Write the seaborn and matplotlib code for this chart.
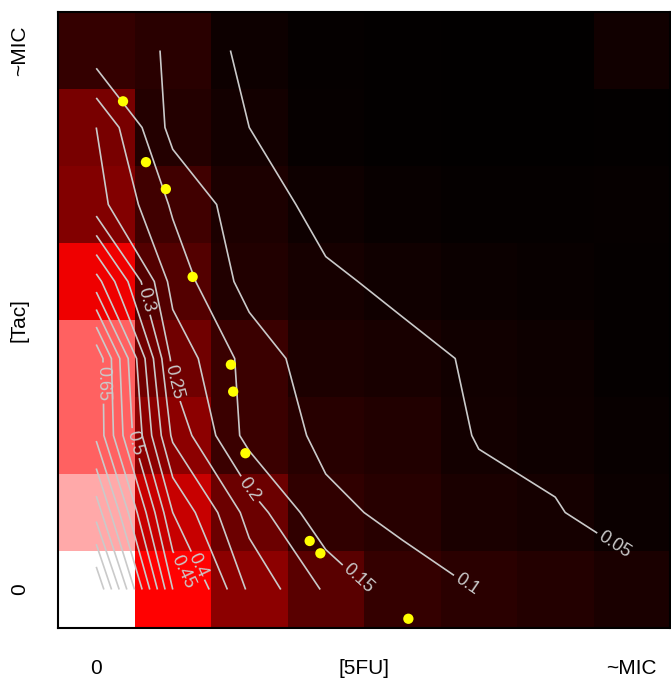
import numpy as np
import pandas as pd
import matplotlib
matplotlib.use("Agg")
from matplotlib import pyplot as plt
from matplotlib.colors import LinearSegmentedColormap
import seaborn as sns

sns.set_style("white")
plt.rcParams['font.family'] = ['Liberation Sans', 'DejaVu Sans']
plt.rcParams['text.color'] = 'black'
plt.rcParams['axes.labelcolor'] = 'black'
plt.rcParams['xtick.color'] = 'black'
plt.rcParams['ytick.color'] = 'black'

# growth (fraction of no-drug control), rows from highest [Tac] (top) to 0 (bottom)
tac_row7 = [0.12, 0.096, 0.035, 0.012, 0.008, 0.006, 0.006, 0.045]
tac_row6 = [0.25, 0.083, 0.05, 0.018, 0.010, 0.006, 0.006, 0.008]
tac_row5 = [0.27, 0.143, 0.068, 0.0385, 0.022, 0.015, 0.015, 0.018]
tac_row4 = [0.47, 0.18, 0.08, 0.0555, 0.0424, 0.028, 0.022, 0.014]
tac_row3 = [0.69, 0.235, 0.13, 0.0675, 0.059, 0.046, 0.032, 0.014]
tac_row2 = [0.69, 0.29, 0.13, 0.09, 0.08, 0.047, 0.038, 0.02]
tac_row1 = [0.83, 0.40, 0.23, 0.11, 0.09, 0.064, 0.053, 0.03]
tac_row0 = [1.0, 0.5, 0.29, 0.193, 0.118, 0.099, 0.085, 0.066]

fu_names = ["fu%d" % i for i in range(8)]
tac_names = ["tac%d" % i for i in range(7, -1, -1)]

# isobole points (in units of grid steps from the 0,0 well)
pt_fu = [0.35, 0.65, 0.91, 1.26, 1.76, 1.79, 1.95, 2.79, 2.93, 4.08]
pt_tac = [6.34, 5.55, 5.20, 4.06, 2.92, 2.57, 1.77, 0.63, 0.47, -0.38]

contour_levels = [0.05, 0.1, 0.15, 0.2, 0.25, 0.3, 0.35, 0.4, 0.45, 0.5,
                  0.55, 0.6, 0.65, 0.7, 0.75, 0.8, 0.85, 0.9, 0.95]
label_levels = [0.05, 0.1, 0.15, 0.2, 0.25, 0.3, 0.4, 0.45, 0.5, 0.65]
label_fu = [6.77, 4.83, 3.44, 1.88, 1.07, 0.64, 1.35, 1.12, 0.44, 0.05]
label_tac = [0.58, 0.05, 0.16, 1.20, 2.72, 3.76, 0.32, 0.23, 1.88, 2.68]

growth = [tac_row7, tac_row6, tac_row5, tac_row4, tac_row3, tac_row2, tac_row1, tac_row0]
df = pd.DataFrame(growth, index=tac_names, columns=fu_names)

# black -> red -> white, a bit darker at the low end
cm_pos = [0.0, 0.05, 0.1, 0.2, 0.3, 0.4, 0.5, 1.0]
cm_red = [0.0, 0.079, 0.17, 0.365, 0.57, 0.782, 1.0, 1.0]
cm_gb = [0.0, 0.0, 0.0, 0.0, 0.0, 0.0, 0.0, 1.0]
cmap = LinearSegmentedColormap.from_list(
    "blackred", list(zip(cm_pos, [(r, g, g) for r, g in zip(cm_red, cm_gb)])))

fig = plt.figure(figsize=(6.71, 6.84), dpi=100)
ax = fig.add_axes([58/671, 1-628/684, 612/671, 616/684])

sns.heatmap(df, cmap=cmap, vmin=0, vmax=1, cbar=False, ax=ax,
            xticklabels=False, yticklabels=False)

xc = np.arange(8) + 0.5
yc = np.arange(8) + 0.5
line_col = "#cacaca"
plain_levels = [l for l in contour_levels if l not in label_levels]
ax.contour(xc, yc, df.values, levels=plain_levels, colors=line_col, linewidths=1.2)
for lev, lx, ly in zip(label_levels, label_fu, label_tac):
    cs = ax.contour(xc, yc, df.values, levels=[lev], colors=line_col, linewidths=1.2)
    cs.clabel(manual=[(lx + 0.5, 7.5 - ly)], inline=True, fmt="%g",
              fontsize=13, colors=line_col, inline_spacing=3)

ax.scatter(np.array(pt_fu) + 0.5, 7.5 - np.array(pt_tac), s=55,
           color="yellow", edgecolor="none", zorder=5)

ax.set_xlim(0, 8)
ax.set_ylim(8, 0)
for sp in ax.spines.values():
    sp.set_visible(True)
    sp.set_color("black")
    sp.set_linewidth(1.5)

ax.set_xticks([0.5, 7.5])
ax.set_xticklabels(["0", "~MIC"], fontsize=15)
ax.set_yticks([0.5, 7.5])
ax.set_yticklabels(["~MIC", "0"], fontsize=15, rotation=90, va="center")
ax.tick_params(axis="x", length=0, pad=22)
ax.tick_params(axis="y", length=0, pad=21)

ax.set_xlabel("[5FU]", fontsize=15)
ax.xaxis.set_label_coords(0.5, -31/616)
ax.set_ylabel("[Tac]", fontsize=15)
ax.yaxis.set_label_coords(-30/612, 0.5)

plt.savefig("out.png", dpi=100)
